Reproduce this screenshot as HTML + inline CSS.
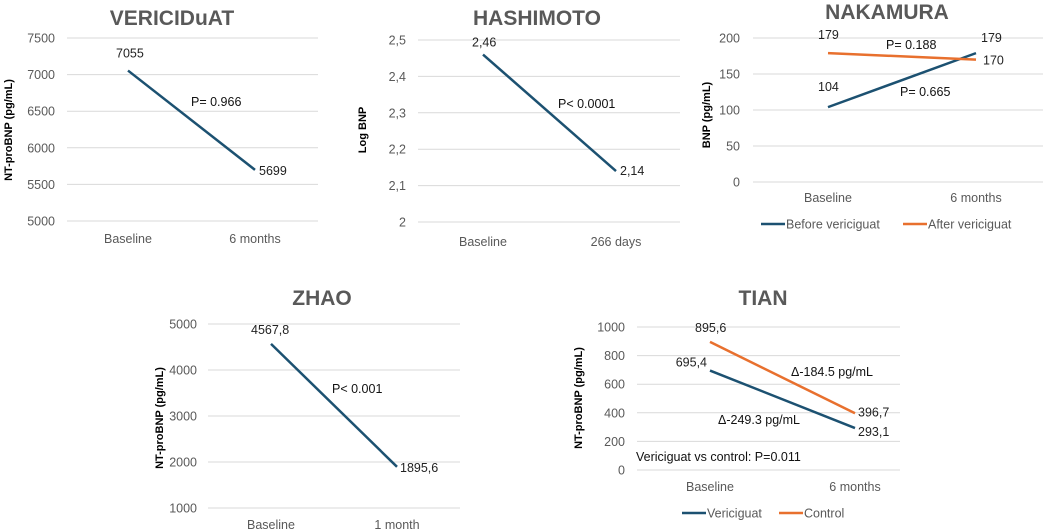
<!DOCTYPE html>
<html><head><meta charset="utf-8">
<style>
html,body{margin:0;padding:0;background:#fff;}
svg{display:block;font-family:"Liberation Sans",Arial,sans-serif;}
</style></head>
<body>
<svg id="c" width="1052" height="531" viewBox="0 0 1052 531"></svg>
<script>
// VERICIDuAT
const vCats=["Baseline","6 months"];
const vTicks=[5000,5500,6000,6500,7000,7500];
const vVals=[7055,5699];
const vLabels=["7055","5699"];
// HASHIMOTO
const hCats=["Baseline","266 days"];
const hTicks=[2,2.1,2.2,2.3,2.4,2.5];
const hTickLabels=["2","2,1","2,2","2,3","2,4","2,5"];
const hVals=[2.46,2.14];
const hLabels=["2,46","2,14"];
// NAKAMURA
const nCats=["Baseline","6 months"];
const nTicks=[0,50,100,150,200];
const nBefore=[104,179];
const nAfter=[179,170];
// ZHAO
const zCats=["Baseline","1 month"];
const zTicks=[1000,2000,3000,4000,5000];
const zVals=[4567.8,1895.6];
const zLabels=["4567,8","1895,6"];
// TIAN
const tCats=["Baseline","6 months"];
const tTicks=[0,200,400,600,800,1000];
const tVeri=[695.4,293.1];
const tCtrl=[895.6,396.7];
const tVeriLabels=["695,4","293,1"];
const tCtrlLabels=["895,6","396,7"];

const NS="http://www.w3.org/2000/svg";
const svg=document.getElementById('c');
const BLUE="#1c5171",ORANGE="#e8702e",GRAY="#595959";
function mk(tag,attrs,parent,name,text){
  const e=document.createElementNS(NS,tag);
  for(const k in attrs)e.setAttribute(k,attrs[k]);
  
  
  if(text!==undefined)e.textContent=text;
  (parent||svg).appendChild(e);return e;
}
function panel(p){
  const g=mk('g',{},svg,p.name);
  const y=v=>p.y0+(v-p.min)/(p.max-p.min)*(p.y1-p.y0);
  const x=i=>p.cx[i];
  mk('text',{x:p.tx,y:p.ty,'text-anchor':'middle','font-size':21,'font-weight':'bold',fill:GRAY},g,'chart-title',p.title);
  p.ticks.forEach((t,i)=>{
    mk('line',{x1:p.gx0,x2:p.gx1,y1:y(t),y2:y(t),stroke:'#d9d9d9','stroke-width':1},g,'gridline');
    mk('text',{x:p.lx,y:y(t)+4.5,'text-anchor':'end','font-size':12.5,fill:GRAY},g,'y-tick-label',p.tickLabels?p.tickLabels[i]:String(t));
  });
  p.cats.forEach((c,i)=>mk('text',{x:x(i),y:p.caty,'text-anchor':'middle','font-size':12.5,fill:GRAY},g,'x-tick-label',c));
  mk('text',{x:0,y:0,transform:`translate(${p.ytx},${p.yty}) rotate(-90)`,'text-anchor':'middle','font-size':11,'font-weight':'bold',fill:'#000'},g,'y-axis-title',p.ytitle);
  p.series.forEach(s=>{
    mk('polyline',{points:s.vals.map((v,i)=>x(i)+','+y(v)).join(' '),fill:'none',stroke:s.color,'stroke-width':2.5},g,s.name);
    s.vals.forEach((v,i)=>{
      const o=s.lab[i];
      mk('text',{x:x(i)+o[0],y:y(v)+o[1],'text-anchor':o[2]||'start','font-size':12.5,fill:'#222'},g,'data-label',s.labels[i]);
    });
  });
  (p.notes||[]).forEach(n=>mk('text',{x:n[0],y:n[1],'font-size':12.5,fill:'#111'},g,'annotation',n[2]));
  (p.legend||[]).forEach(l=>{
    mk('line',{x1:l[0],x2:l[0]+24,y1:p.legy,y2:p.legy,stroke:l[1],'stroke-width':2.5},g,'legend-swatch');
    mk('text',{x:l[0]+25,y:p.legy+4.5,'font-size':12.5,fill:GRAY},g,'legend-entry',l[2]);
  });
}
panel({name:'vericiduat-chart',title:'VERICIDuAT',tx:172,ty:25,ticks:vTicks,min:5000,max:7500,y0:221,y1:38,gx0:67,gx1:318,lx:55,cats:vCats,cx:[128,255],caty:243,ytitle:'NT-proBNP (pg/mL)',ytx:12,yty:130,
 series:[{name:'line-vericiduat',color:BLUE,vals:vVals,labels:vLabels,lab:[[-12,-13],[4,5]]}],notes:[[191,106,'P= 0.966']]});
panel({name:'hashimoto-chart',title:'HASHIMOTO',tx:537,ty:25,ticks:hTicks,tickLabels:hTickLabels,min:2,max:2.5,y0:222,y1:40,gx0:418,gx1:680,lx:406,cats:hCats,cx:[483,616],caty:246,ytitle:'Log BNP',ytx:366,yty:130,
 series:[{name:'line-hashimoto',color:BLUE,vals:hVals,labels:hLabels,lab:[[-11,-8],[4,4]]}],notes:[[558,108,'P< 0.0001']]});
panel({name:'nakamura-chart',title:'NAKAMURA',tx:887,ty:19,ticks:nTicks,min:0,max:200,y0:182,y1:38,gx0:753,gx1:1043,lx:740,cats:nCats,cx:[828,976],caty:202,ytitle:'BNP (pg/mL)',ytx:710,yty:115,
 series:[{name:'line-before-vericiguat',color:BLUE,vals:nBefore,labels:['104','179'],lab:[[-10,-16],[5,-11]]},
         {name:'line-after-vericiguat',color:ORANGE,vals:nAfter,labels:['179','170'],lab:[[-10,-14],[7,5]]}],
 notes:[[886,49,'P= 0.188'],[900,96,'P= 0.665']],legy:224,legend:[[761,BLUE,'Before vericiguat'],[903,ORANGE,'After vericiguat']]});
panel({name:'zhao-chart',title:'ZHAO',tx:322,ty:305,ticks:zTicks,min:1000,max:5000,y0:508,y1:324,gx0:208,gx1:460,lx:197,cats:zCats,cx:[271,397],caty:529,ytitle:'NT-proBNP (pg/mL)',ytx:163,yty:418,
 series:[{name:'line-zhao',color:BLUE,vals:zVals,labels:zLabels,lab:[[-20,-10],[3,5]]}],notes:[[332,393,'P< 0.001']]});
panel({name:'tian-chart',title:'TIAN',tx:763,ty:305,ticks:tTicks,min:0,max:1000,y0:470,y1:327,gx0:637,gx1:900,lx:625,cats:tCats,cx:[710,855],caty:491,ytitle:'NT-proBNP (pg/mL)',ytx:582,yty:398,
 series:[{name:'line-vericiguat',color:BLUE,vals:tVeri,labels:tVeriLabels,lab:[[-3,-4,'end'],[3,8]]},
         {name:'line-control',color:ORANGE,vals:tCtrl,labels:tCtrlLabels,lab:[[-15,-10],[3,3]]}],
 notes:[[791,376,'Δ-184.5 pg/mL'],[718,424,'Δ-249.3 pg/mL'],[636,461,'Vericiguat vs control: P=0.011']],legy:513,legend:[[682,BLUE,'Vericiguat'],[779,ORANGE,'Control']]});
</script>
</body></html>
